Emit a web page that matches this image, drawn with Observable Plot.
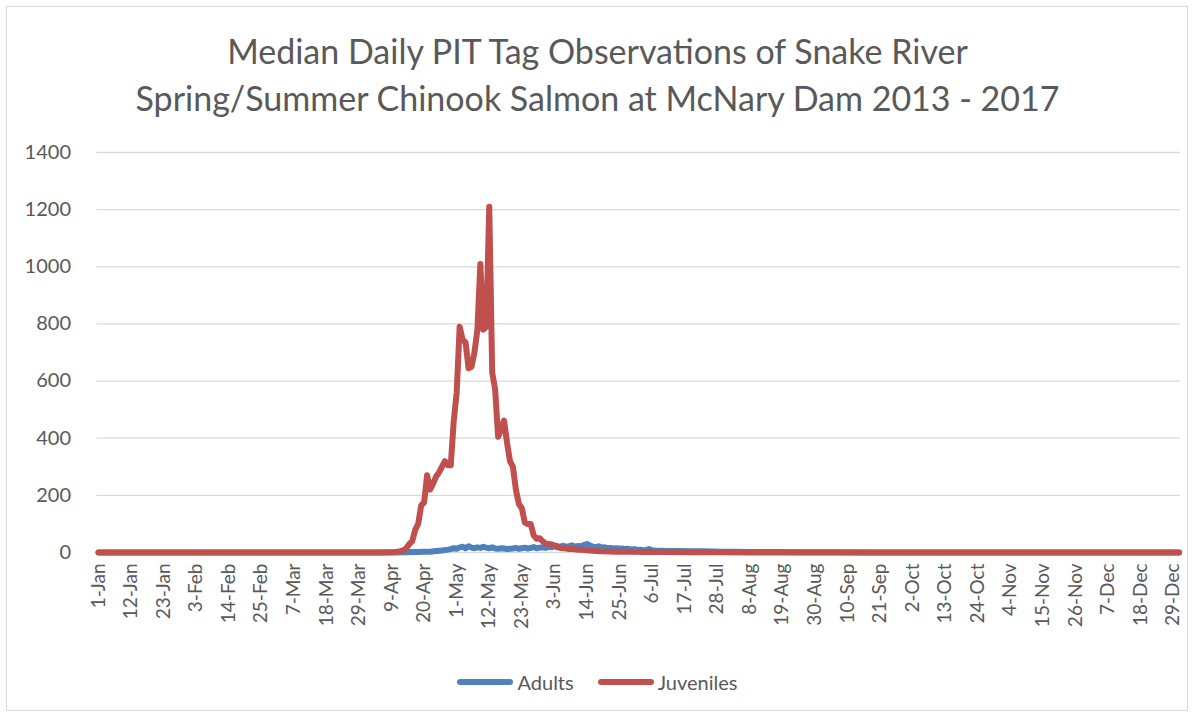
<!DOCTYPE html>
<html>
<head>
<meta charset="utf-8">
<script src="https://cdn.jsdelivr.net/npm/d3@7"></script>
<script src="https://cdn.jsdelivr.net/npm/@observablehq/plot@0.6"></script>
<style>
  html, body { margin: 0; padding: 0; background: #fff; }
  #frame { position: relative; width: 1195px; height: 718px; overflow: hidden; font-family: Lato, "Open Sans", sans-serif; color: #595959; }
  #border { position: absolute; left: 6px; top: 6px; width: 1182px; height: 705px; border: 1px solid #d9d9d9; box-sizing: border-box; }
  #title { position: absolute; left: 0; top: 27px; width: 1195px; text-align: center; font-size: 34px; line-height: 47px; color: #595959; }
  #chart { position: absolute; left: 0; top: 130px; }
  #legend { position: absolute; left: 0; top: 665px; width: 1195px; text-align: center; font-size: 20px; color: #595959; }
  .key { display: inline-flex; align-items: center; margin: 0 12px; }
  .swatch { display: inline-block; width: 56px; height: 6px; border-radius: 3px; margin-right: 4px; }
</style>
</head>
<body>
<div id="frame">
  <div id="border"></div>
  <div id="title">Median Daily PIT Tag Observations of Snake River<br>Spring/Summer Chinook Salmon at McNary Dam 2013 - 2017</div>
  <div id="chart"></div>
  <div id="legend"></div>
</div>
<script>
// Tick positions (day of year, leap year, 0 = 1-Jan) and labels
const tickDays = [0, 11, 22, 33, 44, 55, 66, 77, 88, 99, 110, 121, 132, 143, 154, 165, 176, 187, 198, 209, 220, 231, 242, 253, 264, 275, 286, 297, 308, 319, 330, 341, 352, 363];
const tickLabels = ["1-Jan", "12-Jan", "23-Jan", "3-Feb", "14-Feb", "25-Feb", "7-Mar", "18-Mar", "29-Mar", "9-Apr", "20-Apr", "1-May", "12-May", "23-May", "3-Jun", "14-Jun", "25-Jun", "6-Jul", "17-Jul", "28-Jul", "8-Aug", "19-Aug", "30-Aug", "10-Sep", "21-Sep", "2-Oct", "13-Oct", "24-Oct", "4-Nov", "15-Nov", "26-Nov", "7-Dec", "18-Dec", "29-Dec"];
const yTicks = [0, 200, 400, 600, 800, 1000, 1200, 1400];

// Adults series (day of year -> median count)
const adultDays = [0, 100, 104, 106, 108, 110, 112, 114, 116, 118, 119, 120, 121, 122, 123, 124, 125, 126, 127, 128, 129, 130, 131, 132, 133, 134, 135, 136, 137, 138, 139, 140, 141, 142, 143, 144, 145, 146, 147, 148, 149, 150, 151, 152, 153, 154, 155, 156, 157, 158, 159, 160, 161, 162, 163, 164, 165, 166, 167, 168, 169, 170, 171, 172, 173, 174, 175, 176, 177, 178, 179, 180, 181, 182, 183, 184, 185, 186, 187, 188, 190, 192, 195, 200, 205, 210, 215, 220, 230, 240, 250, 260, 365];
const adultCounts = [0, 0, 1, 2, 2, 3, 3, 5, 7, 10, 12, 15, 13, 18, 20, 15, 22, 17, 15, 18, 16, 20, 17, 15, 18, 14, 13, 15, 14, 12, 13, 14, 16, 13, 15, 17, 14, 16, 19, 15, 17, 18, 16, 20, 18, 22, 18, 20, 24, 19, 22, 25, 20, 23, 21, 26, 30, 25, 20, 18, 22, 17, 18, 15, 16, 14, 15, 13, 14, 12, 13, 10, 12, 9, 10, 8, 9, 12, 8, 7, 6, 5, 5, 4, 4, 3, 3, 2, 2, 1, 1, 0, 0];

// Juveniles series (day of year -> median count)
const juvDays = [0, 95, 98, 100, 101, 102, 103, 104, 105, 106, 107, 108, 109, 110, 111, 112, 113, 114, 115, 116, 117, 118, 119, 120, 121, 122, 123, 124, 125, 126, 127, 128, 129, 130, 131, 132, 133, 134, 135, 136, 137, 138, 139, 140, 141, 142, 143, 144, 145, 146, 147, 148, 149, 150, 151, 152, 153, 154, 155, 156, 157, 158, 159, 160, 161, 162, 163, 164, 165, 166, 167, 168, 170, 175, 180, 185, 190, 200, 210, 220, 365];
const juvCounts = [0, 0, 1, 2, 3, 5, 8, 15, 30, 40, 80, 100, 165, 175, 270, 220, 240, 265, 280, 300, 320, 305, 305, 460, 560, 790, 745, 735, 645, 650, 700, 780, 1010, 780, 790, 1210, 630, 570, 405, 430, 462, 385, 320, 300, 220, 170, 155, 105, 100, 100, 60, 48, 50, 40, 32, 30, 28, 25, 22, 16, 15, 14, 12, 12, 11, 10, 10, 9, 8, 7, 6, 5, 4, 3, 3, 2, 2, 1, 1, 0, 0];

const adults = adultDays.map((d, i) => ({day: d, value: adultCounts[i]}));
const juveniles = juvDays.map((d, i) => ({day: d, value: juvCounts[i]}));

const BLUE = "#4F81BD", RED = "#C0504D", TEXT = "#595959", GRID = "#d9d9d9";

const chart = Plot.plot({
  width: 1195,
  height: 530,
  marginTop: 22,
  marginBottom: 108,
  marginLeft: 96.5,
  marginRight: 15,
  style: {fontFamily: "Lato, 'Open Sans', sans-serif", color: TEXT, background: "transparent"},
  x: {domain: [-0.5, 365.5]},
  y: {domain: [0, 1400]},
  marks: [
    Plot.gridY(yTicks, {stroke: GRID, strokeOpacity: 1, strokeWidth: 1.3}),
    Plot.axisY(yTicks, {tickSize: 0, tickPadding: 26, fontSize: 20, fill: TEXT, label: null, tickFormat: (d) => String(d)}),
    Plot.axisX(tickDays, {tickSize: 0, tickPadding: 11, tickRotate: -90, fontSize: 19, fill: TEXT, label: null,
      tickFormat: (d) => tickLabels[tickDays.indexOf(d)]}),
    Plot.line(adults, {x: "day", y: "value", stroke: BLUE, strokeWidth: 6, strokeLinejoin: "round", strokeLinecap: "round"}),
    Plot.line(juveniles, {x: "day", y: "value", stroke: RED, strokeWidth: 6, strokeLinejoin: "round", strokeLinecap: "round"})
  ]
});
document.getElementById("chart").appendChild(chart);

const legend = document.getElementById("legend");
[["Adults", BLUE], ["Juveniles", RED]].forEach(([name, color]) => {
  const k = document.createElement("span");
  k.className = "key";
  const s = document.createElement("span");
  s.className = "swatch";
  s.style.background = color;
  k.appendChild(s);
  k.appendChild(document.createTextNode(name));
  legend.appendChild(k);
});
</script>
</body>
</html>
